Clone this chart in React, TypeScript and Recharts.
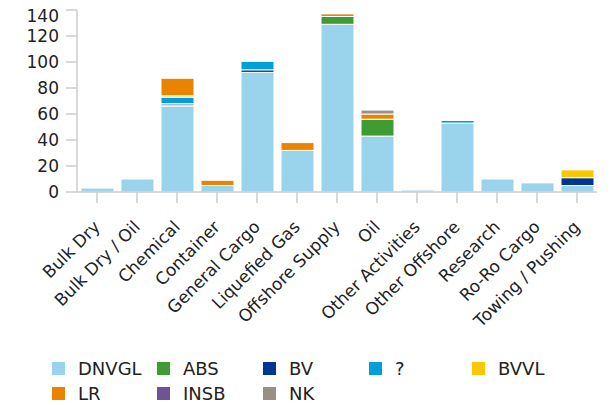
import React from 'react';
import { BarChart, Bar, XAxis, YAxis } from 'recharts';

// ship types on the x axis
const categories = [
    'Bulk Dry',
    'Bulk Dry / Oil',
    'Chemical',
    'Container',
    'General Cargo',
    'Liquefied Gas',
    'Offshore Supply',
    'Oil',
    'Other Activities',
    'Other Offshore',
    'Research',
    'Ro-Ro Cargo',
    'Towing / Pushing',
];

// vessels per class society, same order as categories
const dnvgl = [3, 10, 66, 5, 92, 32, 129, 43, 1.5, 53, 10, 7, 5];
const abs = [0, 0, 1, 0, 0, 0, 6, 13, 0, 0, 0, 0, 0];
const bv = [0, 0, 1, 0, 2, 0, 0, 0, 0, 0, 0, 0, 6];
const unknown = [0, 0, 5, 0, 6.5, 0, 0, 0, 0, 2, 0, 0, 0];
const bvvl = [0, 0, 1, 0, 0, 0, 0, 0, 0, 0, 0, 0, 6];
const lr = [0, 0, 13.5, 4, 0, 6, 2, 4, 0, 0, 0, 0, 0];
const insb = [0, 0, 0, 0, 0, 0, 0, 0, 0, 0, 0, 0, 0];
const nk = [0, 0, 0, 0, 0, 0, 0, 3, 0, 0, 0, 0, 0];

const yTicks = [0, 20, 40, 60, 80, 100, 120, 140];

const series = [
    { key: 'DNVGL', values: dnvgl, color: '#9ad3ec' },
    { key: 'ABS', values: abs, color: '#3f9c35' },
    { key: 'BV', values: bv, color: '#003591' },
    { key: '?', values: unknown, color: '#009fda' },
    { key: 'BVVL', values: bvvl, color: '#f9c800' },
    { key: 'LR', values: lr, color: '#e98300' },
    { key: 'INSB', values: insb, color: '#6e5494' },
    { key: 'NK', values: nk, color: '#988f86' },
];

const data = categories.map((name, i) => {
    const row: any = { name };
    series.forEach((s) => {
        row[s.key] = s.values[i];
    });
    return row;
});

const FONT = '"DejaVu Sans", Verdana, sans-serif';
const TEXT = '#222';
const AXIS = '#cccccc';

const XTick = ({ x, y, payload }: any) => (
    <g transform={`translate(${x + 4},${y + 23})`}>
        <text
            x={0}
            y={0}
            textAnchor="end"
            transform="rotate(-45)"
            fontSize={17}
            fontFamily={FONT}
            fill={TEXT}
        >
            {payload.value}
        </text>
    </g>
);

const YTick = ({ x, y, payload }: any) => (
    <text
        x={x}
        y={payload.value === 140 ? y + 6 : y}
        dy={6}
        textAnchor="end"
        fontSize={17}
        fontFamily={FONT}
        fill={TEXT}
    >
        {payload.value}
    </text>
);

// legend columns, 5 per row
const legendCols = [52, 157, 263, 369, 472];

export default function App() {
    return (
        <div style={{ position: 'absolute', left: 0, top: 0, width: 610, height: 405, background: '#fff' }}>
            <BarChart
                width={610}
                height={345}
                data={data}
                margin={{ top: 10, right: 13, left: 0, bottom: 0 }}
                barSize={33}
            >
                <XAxis
                    dataKey="name"
                    interval={0}
                    height={153}
                    tickSize={11}
                    tickMargin={2}
                    axisLine={{ stroke: AXIS, strokeWidth: 1.5 }}
                    tickLine={{ stroke: AXIS, strokeWidth: 1.5 }}
                    tick={<XTick />}
                />
                <YAxis
                    width={77}
                    domain={[0, 140]}
                    ticks={yTicks}
                    interval={0}
                    tickSize={11}
                    tickMargin={7}
                    axisLine={{ stroke: AXIS, strokeWidth: 1.5 }}
                    tickLine={{ stroke: AXIS, strokeWidth: 1.5 }}
                    tick={<YTick />}
                />
                {series.map((s) => (
                    <Bar
                        key={s.key}
                        dataKey={s.key}
                        stackId="a"
                        fill={s.color}
                        stroke="#fff"
                        strokeWidth={1}
                        isAnimationActive={false}
                    />
                ))}
            </BarChart>
            {series.map((s, i) => {
                const col = legendCols[i % 5];
                const top = i < 5 ? 368 : 393;
                return (
                    <div
                        key={s.key}
                        style={{
                            position: 'absolute',
                            left: col,
                            top: top - 11,
                            height: 22,
                            display: 'flex',
                            alignItems: 'center',
                            fontFamily: FONT,
                            fontSize: 18,
                            color: TEXT,
                            whiteSpace: 'nowrap',
                        }}
                    >
                        <span style={{ width: 13, height: 13, background: s.color, marginRight: 13 }} />
                        {s.key}
                    </div>
                );
            })}
        </div>
    );
}
